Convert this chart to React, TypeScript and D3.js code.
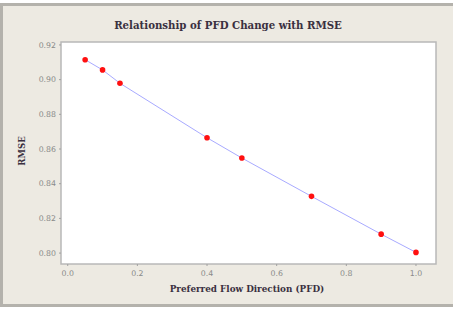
import React from "react";
import * as d3 from "d3";

// values
const pfd = [0.05, 0.1, 0.15, 0.4, 0.5, 0.7, 0.9, 1.0];
const rmse = [0.9115, 0.9056, 0.8979, 0.8665, 0.8548, 0.8327, 0.8109, 0.8004];
const xTicks = [0.0, 0.2, 0.4, 0.6, 0.8, 1.0];
const yTicks = [0.8, 0.82, 0.84, 0.86, 0.88, 0.9, 0.92];

const width = 453;
const height = 310;
const plot = { left: 61, right: 436, top: 42, bottom: 264 };

export default function App() {
  const x = d3.scaleLinear().domain([-0.0193, 1.0575]).range([plot.left, plot.right]);
  const y = d3.scaleLinear().domain([0.7937, 0.9217]).range([plot.bottom, plot.top]);

  const points = pfd.map((p, i) => ({ p, r: rmse[i] }));
  const line = d3
    .line<{ p: number; r: number }>()
    .x((d) => x(d.p))
    .y((d) => y(d.r));

  const tickFont = "'DejaVu Sans', sans-serif";

  return (
    <svg
      width={width}
      height={height}
      style={{ position: "absolute", left: 0, top: 0 }}
    >
      <rect x={0} y={0} width={width} height={height} fill="#ffffff" />
      <rect x={1.5} y={4.5} width={width} height={301} fill="#edeae2" stroke="#b4b2ac" strokeWidth={3} />

      <text
        x={228}
        y={29}
        textAnchor="middle"
        fontFamily="'DejaVu Serif', serif"
        fontWeight="bold"
        fontSize={10.2}
        fill="#3a3040"
      >
        Relationship of PFD Change with RMSE
      </text>

      <rect
        x={plot.left}
        y={plot.top}
        width={plot.right - plot.left}
        height={plot.bottom - plot.top}
        fill="#ffffff"
        stroke="#b8b8b8"
        strokeWidth={1.5}
      />

      {yTicks.map((t) => (
        <g key={"y" + t} transform={`translate(0,${y(t)})`}>
          <line x1={plot.left - 2} x2={plot.left} stroke="#a0a0a0" />
          <text
            x={plot.left - 5}
            dy="0.35em"
            textAnchor="end"
            fontFamily={tickFont}
            fontSize={7.8}
            fill="#8a8a8a"
          >
            {d3.format(".2f")(t)}
          </text>
        </g>
      ))}

      {xTicks.map((t) => (
        <g key={"x" + t} transform={`translate(${x(t)},0)`}>
          <line y1={plot.bottom} y2={plot.bottom + 2} stroke="#a0a0a0" />
          <text
            y={plot.bottom + 12}
            textAnchor="middle"
            fontFamily={tickFont}
            fontSize={7.8}
            fill="#8a8a8a"
          >
            {d3.format(".1f")(t)}
          </text>
        </g>
      ))}

      <path d={line(points) || ""} fill="none" stroke="#a8aaff" strokeWidth={1} />
      {points.map((d, i) => (
        <circle key={i} cx={x(d.p)} cy={y(d.r)} r={2.8} fill="#ff1010" />
      ))}

      <text
        x={247}
        y={292}
        textAnchor="middle"
        fontFamily="'DejaVu Serif', serif"
        fontWeight="bold"
        fontSize={8.8}
        fill="#3a3040"
      >
        Preferred Flow Direction (PFD)
      </text>
      <text
        transform="translate(25,151) rotate(-90)"
        textAnchor="middle"
        fontFamily="'DejaVu Serif', serif"
        fontWeight="bold"
        fontSize={8.6}
        fill="#3a3040"
      >
        RMSE
      </text>
    </svg>
  );
}
